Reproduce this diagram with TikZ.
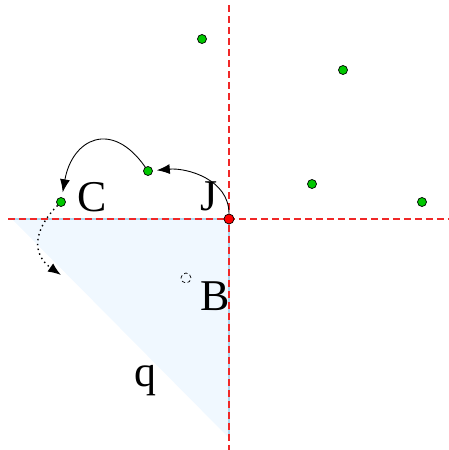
\documentclass[tikz,border=0pt]{standalone}
\usepackage{fontspec}
\setmainfont{Liberation Serif}
\usepackage{xcolor}
\usetikzlibrary{arrows.meta,positioning,calc}

\definecolor{regionblue}{HTML}{F0F8FF}
\definecolor{edgeblue}{HTML}{ADD8F0}
\definecolor{ptgreen}{RGB}{0,200,0}
\definecolor{axisred}{RGB}{240,40,40}

\begin{document}
\begin{tikzpicture}[
    x=0.02cm, y=-0.02cm,
    site/.style={circle, draw=black, fill=ptgreen, line width=0.4pt, inner sep=0pt, minimum size=0.18cm},
    focus/.style={circle, draw=black, fill=red, line width=0.4pt, inner sep=0pt, minimum size=0.2cm},
    axisline/.style={draw=axisred, line width=0.6pt, dash pattern=on 0.14cm off 0.08cm},
    lbl/.style={font=\fontsize{25}{28}\selectfont, inner sep=0pt},
    arrow/.style={-{Latex[length=0.26cm,width=0.2cm]}, line width=0.5pt},
    swing/.style={-{Latex[length=0.26cm,width=0.2cm]}, line width=0.8pt, dotted}
]
    \useasboundingbox (0,0) rectangle (449,450);

    % shaded region
    \fill [regionblue] (12,219) -- (229,219) -- (229,438) -- cycle;
    \draw [edgeblue, line width=0.6pt] (12,219) -- (229,219) -- (229,438);

    % axes through J
    \draw [axisline] (8,219) -- (449,219);
    \draw [axisline] (229,5) -- (229,450);

    % sites
    \node [site] (s1) at (202,39) {};
    \node [site] (s2) at (343,70) {};
    \node [site] (s3) at (148,171) {};
    \node [site] (s4) at (312,184) {};
    \node [site] (s5) at (422,202) {};
    \node [site] (c) at (61,202) {};
    \node [focus] (j) at (229,219) {};

    % labels
    \node [lbl] (lc) at (92,197) {C};
    \node [lbl] (lj) at (209,196) {J};
    \node [lbl] (lb) at (215,296) {B};
    \node [lbl] (lq) at (145,381) {q};

    % small dashed circle
    \node [circle, draw, dash pattern=on 2pt off 1.5pt, line width=0.4pt, inner sep=0pt, minimum size=0.2cm] (b) at (186,278) {};

    % moves
    \coordinate (e) at (61,275);
    \draw [arrow, shorten >=0.08cm] (j) to[out=90, in=5] (s3);
    \draw [arrow, shorten >=0.1cm] (s3) to[out=125, in=80, looseness=1.7] (c);
    \draw [swing] (c) to[out=225, in=145, looseness=1.3] (e);
\end{tikzpicture}
\end{document}
